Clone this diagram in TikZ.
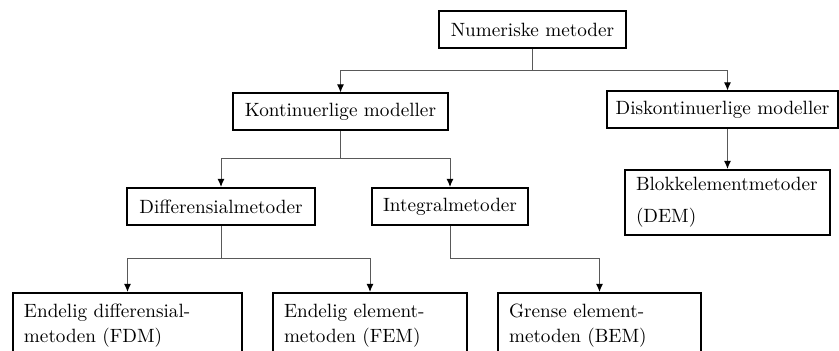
\documentclass[tikz,border=0pt]{standalone}
\usepackage{tikz}
\usetikzlibrary{arrows.meta, positioning, calc}
\begin{document}
\begin{tikzpicture}[x=0.5pt, y=-0.5pt,
    every node/.style={font=\fontsize{9.6}{12.5}\selectfont},
    box/.style={draw, line width=1pt, minimum height=18.5pt, inner sep=0pt},
    tbox/.style={draw, line width=1pt, minimum height=32.5pt, inner xsep=5.5pt, inner ysep=0pt, align=left},
    conn/.style={draw=black!65, line width=0.5pt, -{Latex[length=4pt,width=3.4pt,color=black]}}]
	\clip (0,0) rectangle (839,351);

	% levels of the tree
	\node [box, minimum width=93.5pt] (num) at (532.5,29.5) {Numeriske metoder};
	\node [box, minimum width=107.5pt] (kont) at (340.5,112) {Kontinuerlige modeller};
	\node [box, minimum width=115.5pt] (disk) at (722.5,110) {Diskontinuerlige modeller};
	\node [tbox, text width=91.5pt, font=\fontsize{9.6}{16}\selectfont] (blokk) at (727.5,202.5) {Blokkelementmetoder\\(DEM)};
	\node [box, minimum width=94pt] (diff) at (221,206.5) {Differensialmetoder};
	\node [box, minimum width=78pt] (integ) at (450,206.5) {Integralmetoder};
	\node [tbox, text width=103.5pt] (fdm) at (127.5,325.5) {Endelig differensial-\\metoden (FDM)};
	\node [tbox, text width=86pt] (fem) at (370,325.5) {Endelig element-\\metoden (FEM)};
	\node [tbox, text width=90.5pt] (bem) at (599.5,325.5) {Grense element-\\metoden (BEM)};

	% connectors
	\coordinate (j1) at ($(num.south)+(0,22)$);
	\draw [conn] (num.south) -- (j1) -| (kont.north);
	\draw [conn] (j1) -| (disk.north -| blokk.north);
	\draw [conn] (disk.south -| blokk.north) -- (blokk.north);

	\coordinate (j2) at ($(kont.south)+(0,27)$);
	\draw [conn] (kont.south) -- (j2) -| (diff.north);
	\draw [conn] (j2) -| (integ.north);

	\coordinate (j3) at ($(diff.south)+(0,33)$);
	\draw [conn] (diff.south) -- (j3) -| (fdm.north);
	\draw [conn] (j3) -| (fem.north);

	\coordinate (j4) at ($(integ.south)+(0,33)$);
	\draw [conn] (integ.south) -- (j4) -| (bem.north);
\end{tikzpicture}
\end{document}
